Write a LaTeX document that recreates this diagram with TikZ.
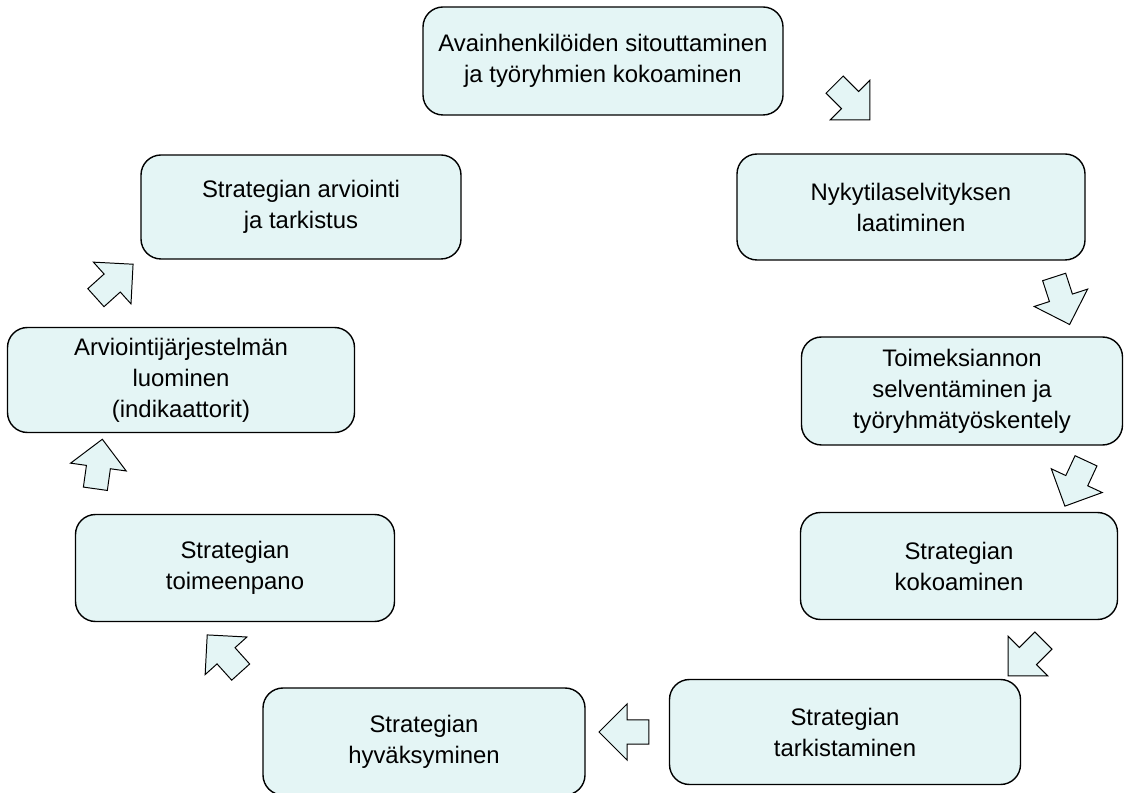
\documentclass[tikz,border=0pt]{standalone}
\usepackage{fontspec}
\setmainfont{Liberation Sans}
\usepackage{tikz}
\usetikzlibrary{shapes.arrows}
\definecolor{cellfill}{RGB}{228,245,245}

\begin{document}
\begin{tikzpicture}[
        phase/.style={draw, line width=1pt, rounded corners=0.5cm, fill=cellfill,
            align=center, font=\fontsize{17}{22}\selectfont},
        cyclearrow/.style={single arrow, draw, line width=0.7pt, fill=cellfill,
            inner xsep=0pt, inner ysep=0.29cm, minimum height=1.25cm,
            minimum width=1.4cm, single arrow head extend=0.4cm}]
        \useasboundingbox (0,0) rectangle (28.2,19.8);

        % Phases of the strategy work, clockwise from the top
        \node[phase, minimum width=9cm, minimum height=2.7cm] (sitout) at (15.075,18.275)
            {Avainhenkilöiden sitouttaminen\\ja työryhmien kokoaminen};
        \node[phase, minimum width=8.7cm, minimum height=2.65cm] (nykytila) at (22.775,14.625)
            {Nykytilaselvityksen\\laatiminen};
        \node[phase, minimum width=8.025cm, minimum height=2.7cm] (toimeks) at (24.05,10.025)
            {Toimeksiannon\\selventäminen ja\\työryhmätyöskentely};
        \node[phase, minimum width=7.925cm, minimum height=2.675cm] (kokoam) at (23.975,5.65)
            {Strategian\\kokoaminen};
        \node[phase, minimum width=8.775cm, minimum height=2.625cm] (tarkist) at (21.125,1.5)
            {Strategian\\tarkistaminen};
        \node[phase, minimum width=8.05cm, minimum height=2.675cm] (hyvaks) at (10.6,1.2625)
            {Strategian\\hyväksyminen};
        \node[phase, minimum width=7.975cm, minimum height=2.675cm] (toimeen) at (5.875,5.6)
            {Strategian\\toimeenpano};
        \node[phase, minimum width=8.675cm, minimum height=2.625cm] (arvjarj) at (4.525,10.3)
            {Arviointijärjestelmän\\luominen\\(indikaattorit)};
        \node[phase, minimum width=8cm, minimum height=2.6cm] (arvtark) at (7.525,14.625)
            {Strategian arviointi\\ja tarkistus};

        % Block arrows between the phases
        \node[cyclearrow, rotate=-45] (a1) at (21.2,17.35) {};
        \node[cyclearrow, rotate=-72] (a2) at (26.5,12.425) {};
        \node[cyclearrow, rotate=-115] (a3) at (26.95,7.85) {};
        \node[cyclearrow, rotate=-135] (a4) at (25.75,3.45) {};
        \node[cyclearrow, rotate=180] (a5) at (15.75,1.5) {};
        \node[cyclearrow, rotate=132] (a6) at (5.7,3.35) {};
        \node[cyclearrow, rotate=82] (a7) at (2.45,8.05) {};
        \node[cyclearrow, rotate=42] (a8) at (2.75,12.675) {};
\end{tikzpicture}
\end{document}
